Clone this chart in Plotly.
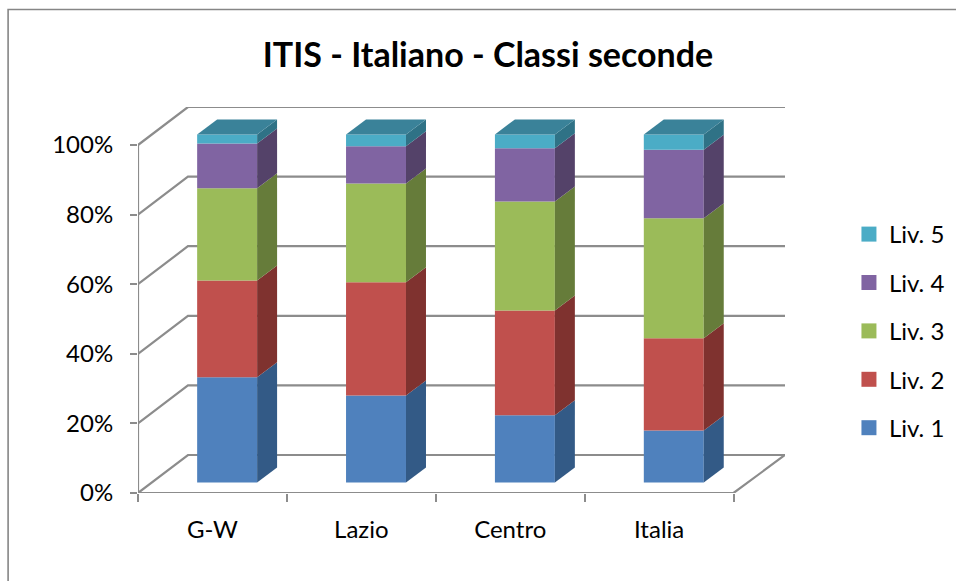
import plotly.graph_objects as go

categories = ["G-W", "Lazio", "Centro", "Italia"]
series_names = ["Liv. 1", "Liv. 2", "Liv. 3", "Liv. 4", "Liv. 5"]
liv1 = [30.2, 25.0, 19.3, 14.9]
liv2 = [27.8, 32.5, 30.1, 26.5]
liv3 = [26.5, 28.4, 31.3, 34.5]
liv4 = [12.9, 10.7, 15.3, 19.7]
liv5 = [2.6, 3.4, 4.0, 4.4]
y_ticks = [0, 20, 40, 60, 80, 100]
y_tick_labels = ["0%", "20%", "40%", "60%", "80%", "100%"]

front = ["#4F81BD", "#C0504D", "#9BBB59", "#8064A2", "#4BACC6"]
side = ["#335A86", "#7F322F", "#667C3A", "#544269", "#2F7286"]
top_face = "#3A8299"
grid = "#8C8C8C"

W, H = 956, 581
L, R, T, B = 137.5, 785, 107, 493
PX_X = 149.0          # pixels per category
PX_Y = 3.48           # pixels per percent
wall_dx, wall_dy = 50 / PX_X, 38 / PX_Y
bar_w = 60 / PX_X
bar_shift = 14.7 / PX_X
bar_lift = 3.05
bar_dx, bar_dy = 20 / PX_X, 15 / PX_Y
x_max = (R - L) / PX_X
y_max = (B - T) / PX_Y
n = len(categories)
series = [liv1, liv2, liv3, liv4, liv5]

fig = go.Figure()


def line(xs, ys):
    fig.add_trace(go.Scatter(x=xs, y=ys, mode="lines", showlegend=False, hoverinfo="skip",
                             cliponaxis=False, line=dict(color=grid, width=2.2)))


# walls and floor
for t in y_ticks:
    line([0, wall_dx, x_max], [t, t + wall_dy, t + wall_dy])
line([0, 0], [0, 100])
line([0, n, x_max], [0, 0, wall_dy])

# bars
centers = [i + 0.5 + bar_shift for i in range(n)]
cum = [0.0] * n
for k, vals in enumerate(series):
    bases = [c + bar_lift for c in cum]
    fig.add_trace(go.Bar(x=centers, y=vals, base=bases, width=bar_w, xaxis="x2", yaxis="y2",
                         marker=dict(color=front[k], line=dict(width=0)), showlegend=False,
                         name=series_names[k]))
    for i in range(n):
        xr = centers[i] + bar_w / 2
        a, b = bases[i], bases[i] + vals[i]
        fig.add_trace(go.Scatter(x=[xr, xr + bar_dx, xr + bar_dx, xr, xr],
                                 y=[a, a + bar_dy, b + bar_dy, b, a],
                                 mode="lines", fill="toself", fillcolor=side[k],
                                 line=dict(width=0), showlegend=False, hoverinfo="skip",
                                 xaxis="x2", yaxis="y2"))
    cum = [c + v for c, v in zip(cum, vals)]

for i in range(n):
    xl, xr = centers[i] - bar_w / 2, centers[i] + bar_w / 2
    t = cum[i] + bar_lift
    fig.add_trace(go.Scatter(x=[xl, xr, xr + bar_dx, xl + bar_dx, xl],
                             y=[t, t, t + bar_dy, t + bar_dy, t],
                             mode="lines", fill="toself", fillcolor=top_face,
                             line=dict(width=0), showlegend=False, hoverinfo="skip",
                             xaxis="x2", yaxis="y2"))

# legend entries, top to bottom
for k in reversed(range(len(series_names))):
    name = series_names[k]
    fig.add_trace(go.Scatter(x=[None], y=[None], mode="markers", name=name, legendgroup=name,
                             marker=dict(symbol="square", size=15, color=front[k])))

font = dict(family="Lato", size=24, color="#000000")
fig.update_layout(
    width=W, height=H, autosize=False,
    paper_bgcolor="white", plot_bgcolor="white",
    margin=dict(l=L, r=W - R, t=T, b=H - B, pad=0, autoexpand=False),
    font=font,
    title=dict(text="<b>ITIS - Italiano - Classi seconde</b>", x=488 / W, y=1 - 55 / H,
               xanchor="center", yanchor="middle", xref="container", yref="container",
               font=dict(family="Lato", size=34, color="#000000")),
    xaxis=dict(range=[0, x_max], tickmode="array", tickvals=[i + 0.5 for i in range(n)],
               ticktext=categories, ticks="", showgrid=False, zeroline=False, showline=False,
               ticklabelstandoff=20,
               minor=dict(tickmode="array", tickvals=list(range(n + 1)), ticks="outside",
                          ticklen=8, tickwidth=2, tickcolor=grid, showgrid=False)),
    yaxis=dict(range=[0, y_max], tickmode="array", tickvals=y_ticks, ticktext=y_tick_labels,
               ticks="outside", ticklen=7, tickwidth=2, tickcolor=grid, showgrid=False,
               zeroline=False, showline=False, ticklabelstandoff=12),
    xaxis2=dict(range=[0, x_max], overlaying="x", visible=False),
    yaxis2=dict(range=[0, y_max], overlaying="y", visible=False),
    barmode="overlay",
    legend=dict(x=(849 - L) / (R - L), y=(B - 212) / (B - T), xanchor="left", yanchor="top",
                traceorder="grouped", tracegroupgap=14.2, itemwidth=30,
                font=dict(family="Lato", size=24), bgcolor="rgba(0,0,0,0)"),
    shapes=[dict(type="path", xref="paper", yref="paper",
                 path="M %f,%f L %f,%f L %f,%f" % (
                     (7.5 - L) / (R - L), (B - 590) / (B - T),
                     (7.5 - L) / (R - L), (B - 9.5) / (B - T),
                     (965 - L) / (R - L), (B - 9.5) / (B - T)),
                 line=dict(color="#868686", width=1.6))],
)
fig.write_html("out.html", config={"displayModeBar": False},
               post_script="document.body.style.margin='0';document.body.style.overflow='hidden';")
